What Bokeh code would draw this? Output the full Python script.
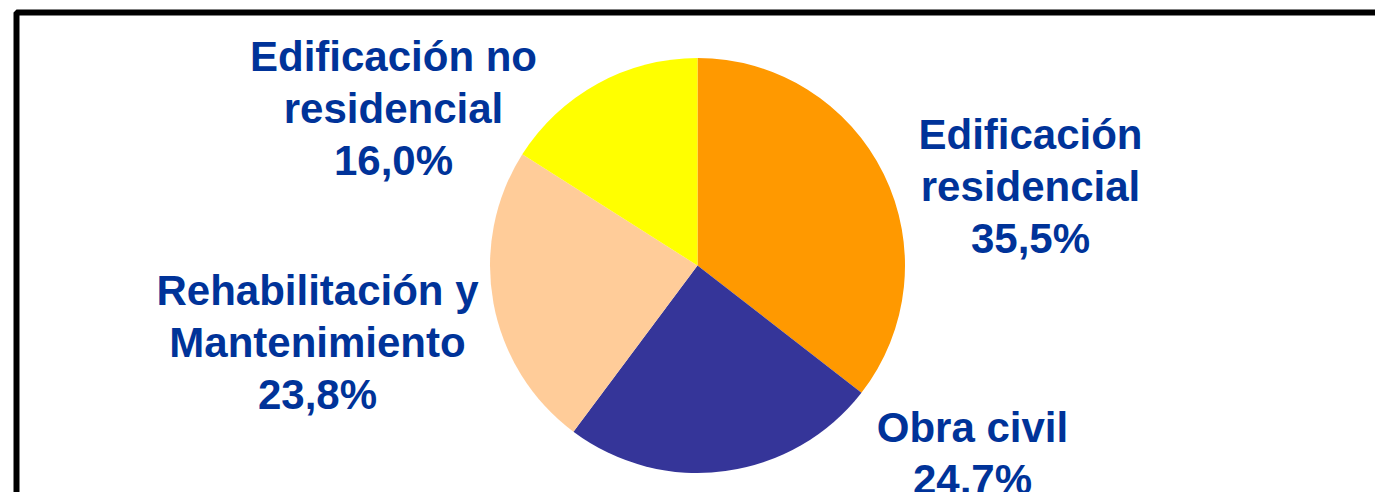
from bokeh.plotting import figure
from bokeh.models import Range1d, ColumnDataSource
from bokeh.core.properties import value
from bokeh.embed import file_html
from bokeh.resources import INLINE
import math

# ---- data ----
categories = ["Edificación residencial", "Obra civil",
              "Rehabilitación y Mantenimiento", "Edificación no residencial"]
label_texts = ["Edificación\nresidencial", "Obra civil",
               "Rehabilitación y\nMantenimiento", "Edificación no\nresidencial"]
shares = [35.5, 24.7, 23.8, 16.0]
colors = ["#FF9900", "#353599", "#FFCC99", "#FFFF00"]

# ---- layout (pixels, y measured from top) ----
W, H = 1375, 492
CX, CY, R = 697, 265, 207.5
label_anchor = [(1030, 147), (972, 440), (317, 303), (393, 69)]  # centre x, first baseline
LINE_H = 52
BASELINE_FIX = 13
TEXT_COLOR = "#003399"

p = figure(width=W, height=H, output_backend="svg", toolbar_location=None,
           x_range=Range1d(0, W), y_range=Range1d(0, H),
           min_border=0, outline_line_color=None, background_fill_color="white")
p.axis.visible = False
p.grid.visible = False

def fy(y):
    return H - y

total = sum(shares)
starts, ends = [], []
cum = 0.0
for s in shares:
    a0 = math.pi / 2 - 2 * math.pi * cum / total
    cum += s
    a1 = math.pi / 2 - 2 * math.pi * cum / total
    starts.append(a0)
    ends.append(a1)

src = ColumnDataSource(dict(x=[CX] * len(shares), y=[fy(CY)] * len(shares),
                            start=starts, end=ends, color=colors, cat=categories))
p.wedge(x="x", y="y", radius=R, start_angle="start", end_angle="end",
        direction="clock", fill_color="color", line_color=None, source=src)

# labels
tx, ty, tt = [], [], []
for (ax, ay), lab, s in zip(label_anchor, label_texts, shares):
    lines = lab.split("\n") + [f"{s:.1f}".replace(".", ",") + "%"]
    for i, ln in enumerate(lines):
        tx.append(ax)
        ty.append(fy(ay + i * LINE_H - BASELINE_FIX))
        tt.append(ln)
p.text(x=tx, y=ty, text=tt, text_font=value("Liberation Sans"),
       text_font_style="bold", text_font_size="42px", text_color=TEXT_COLOR,
       text_align="center", text_baseline="alphabetic")

# frame border (cropped on right and bottom)
p.quad(left=[16], right=[W + 50], top=[fy(12)], bottom=[-50],
       fill_color=None, line_color="black", line_width=6)

open("out.html", "w").write(file_html(p, INLINE))
